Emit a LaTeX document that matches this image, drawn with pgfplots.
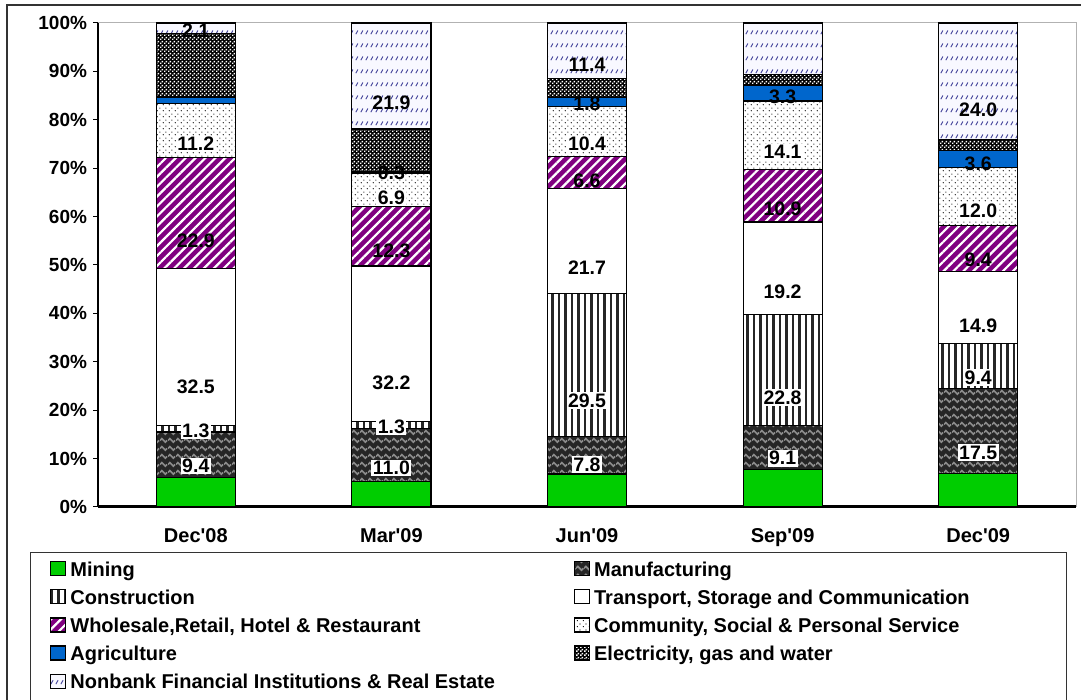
\documentclass[border=0pt]{standalone}
\usepackage{pgfplots}
\pgfplotsset{compat=1.18}
\usepackage{pgfplotstable}
\usepackage{fontspec}
\setmainfont{Liberation Sans}
\usetikzlibrary{patterns,patterns.meta}

\definecolor{mgreen}{RGB}{0,205,0}
\definecolor{wpurple}{RGB}{128,0,128}
\definecolor{agblue}{RGB}{0,102,204}
\definecolor{nbbg}{RGB}{248,248,255}
\definecolor{nbline}{RGB}{60,60,150}

\tikzdeclarepattern{name=wavy, type=uncolored,
  bounding box={(0bp,0bp) and (8bp,8bp)}, tile size={(8bp,8bp)},
  code={\draw[line width=1.8bp] (0bp,4bp) sin (2bp,6bp) cos (4bp,4bp) sin (6bp,2bp) cos (8bp,4bp);}}
\tikzdeclarepattern{name=slashes, type=uncolored,
  bounding box={(0bp,0bp) and (5bp,13bp)}, tile size={(5bp,13bp)},
  code={\draw[line width=1bp] (1bp,3bp) -- (3.5bp,7bp);}}
\tikzdeclarepattern{name=checks, type=uncolored,
  bounding box={(0bp,0bp) and (4bp,4bp)}, tile size={(4bp,4bp)},
  code={\fill (0bp,0bp) rectangle (1.8bp,1.8bp); \fill (2bp,2bp) rectangle (3.8bp,3.8bp);}}
\tikzdeclarepattern{name=sdots, type=uncolored,
  bounding box={(0bp,0bp) and (6bp,6bp)}, tile size={(6bp,6bp)},
  code={\fill (1.5bp,1.5bp) circle (0.7bp); \fill (4.5bp,4.5bp) circle (0.7bp);}}

\newcommand\tickfont{\fontsize{19bp}{22bp}\selectfont\bfseries}
\newcommand\catfont{\fontsize{20bp}{23bp}\selectfont\bfseries}
\newcommand\lblfont{\fontsize{19.5bp}{22bp}\selectfont\bfseries}
\newcommand\legfont{\fontsize{20bp}{23bp}\selectfont\bfseries}

\setlength{\fboxsep}{1.5bp}
\def\nolab{n}
\newcommand\plainlab{\edef\tmplab{\pgfplotspointmeta}\ifx\tmplab\nolab\else\tmplab\fi}
\newcommand\boxlab{\edef\tmplab{\pgfplotspointmeta}\ifx\tmplab\nolab\else\colorbox{white}{\tmplab}\fi}

% the shift is applied twice by pgfplots, so a quarter of the value centres the label
\pgfplotsset{
  seglab/.style={
    point meta=explicit symbolic,
    visualization depends on={\thisrow{y} \as \rawy},
    nodes near coords={#1},
    every node near coord/.append style={anchor=center, inner sep=0pt, text=black,
      font=\lblfont, shift={(axis direction cs:0,-\rawy/4)}},
  },
}

\pgfplotstableread{
x y lab
0 6.1 n
1 5.3 n
2 6.8 n
3 7.8 n
4 6.9 n
}\tMining
\pgfplotstableread{
x y lab
0 9.4 9.4
1 11.0 11.0
2 7.8 7.8
3 9.1 9.1
4 17.5 17.5
}\tManuf
\pgfplotstableread{
x y lab
0 1.3 1.3
1 1.3 1.3
2 29.5 29.5
3 22.8 22.8
4 9.4 9.4
}\tConstr
\pgfplotstableread{
x y lab
0 32.5 32.5
1 32.2 32.2
2 21.7 21.7
3 19.2 19.2
4 14.9 14.9
}\tTrans
\pgfplotstableread{
x y lab
0 22.9 22.9
1 12.3 12.3
2 6.6 6.6
3 10.9 10.9
4 9.4 9.4
}\tWhole
\pgfplotstableread{
x y lab
0 11.2 11.2
1 6.9 6.9
2 10.4 10.4
3 14.1 14.1
4 12.0 12.0
}\tComm
\pgfplotstableread{
x y lab
0 1.3 n
1 0.3 0.3
2 1.8 1.8
3 3.3 3.3
4 3.6 3.6
}\tAgri
\pgfplotstableread{
x y lab
0 13.2 n
1 8.8 n
2 4.0 n
3 2.1 n
4 2.3 n
}\tElec
\pgfplotstableread{
x y lab
0 2.1 2.1
1 21.9 21.9
2 11.4 11.4
3 10.7 n
4 24.0 24.0
}\tNonbank

\begin{document}
\begin{tikzpicture}[x=1bp,y=1bp]
\useasboundingbox (0,0) rectangle (1081,700);
\draw[black!80, line width=1.2bp] (7,-20) -- (7,695) -- (1100,695);
\draw[black!80, line width=1bp, fill=white] (30,147) rectangle (1066,-5);
\begin{axis}[
  at={(98bp,193bp)}, anchor=south west,
  scale only axis, width=978bp, height=484bp,
  ybar stacked, bar width=0.404,
  xmin=-0.5, xmax=4.5, ymin=0, ymax=100,
  enlargelimits=false, clip=false,
  xtick={0,1,2,3,4},
  xticklabels={Dec\textquotesingle08,Mar\textquotesingle09,Jun\textquotesingle09,Sep\textquotesingle09,Dec\textquotesingle09},
  ytick={0,10,...,100},
  ytick pos=left,
  yticklabel={\pgfmathprintnumber{\tick}\%},
  /pgf/number format/assume math mode=true,
  tick align=outside, major tick length=5bp,
  xtick style={draw=none},
  ytick style={black, line width=1bp},
  yticklabel style={font=\tickfont, xshift=-2.5bp},
  xticklabel style={font=\catfont, yshift=-13bp},
  axis line style={draw=gray!60, line width=1bp},
  legend style={
    at={(0,0)}, anchor=north west, xshift=-48bp, yshift=-54bp,
    draw=none, fill=none, inner sep=0pt,
    font=\legfont, row sep=8bp,
    nodes={inner sep=0pt, text height=15bp, text depth=5bp},
    /tikz/every odd column/.append style={column sep=4bp},
    /tikz/every even column/.append style={column sep=79bp},
  },
  legend cell align=left,
  legend columns=2,
  legend image code/.code={\draw[#1] (0bp,-4.5bp) rectangle (15bp,9.5bp);},
]
\addplot[draw=black, line width=1.2bp, fill=mgreen, seglab=\plainlab]
  table[x=x,y=y,meta=lab]{\tMining};
\addlegendentry{Mining}
\addplot[draw=black, line width=1.2bp, fill=black!85, postaction={pattern=wavy, pattern color=black!45}, seglab=\boxlab]
  table[x=x,y=y,meta=lab]{\tManuf};
\addlegendentry{Manufacturing}
\addplot[draw=black, line width=1.2bp, fill=white, postaction={pattern={Lines[angle=90,distance=6.5bp,line width=2.2bp]}, pattern color=black!85}, seglab=\boxlab]
  table[x=x,y=y,meta=lab]{\tConstr};
\addlegendentry{Construction}
\addplot[draw=black, line width=1.2bp, fill=white, seglab=\plainlab]
  table[x=x,y=y,meta=lab]{\tTrans};
\addlegendentry{Transport, Storage and Communication}
\addplot[draw=black, line width=1.2bp, fill=wpurple, postaction={pattern={Lines[angle=45,distance=7bp,line width=2.2bp]}, pattern color=white}, seglab=\plainlab]
  table[x=x,y=y,meta=lab]{\tWhole};
\addlegendentry{Wholesale,Retail, Hotel \& Restaurant}
\addplot[draw=black, line width=1.2bp, fill=white, postaction={pattern=sdots, pattern color=black}, seglab=\boxlab]
  table[x=x,y=y,meta=lab]{\tComm};
\addlegendentry{Community, Social \& Personal Service}
\addplot[draw=black, line width=1.2bp, fill=agblue, seglab=\plainlab]
  table[x=x,y=y,meta=lab]{\tAgri};
\addlegendentry{Agriculture}
\addplot[draw=black, line width=1.2bp, fill=black, postaction={pattern=checks, pattern color=white}, seglab=\plainlab]
  table[x=x,y=y,meta=lab]{\tElec};
\addlegendentry{Electricity, gas and water}
\addplot[draw=black, line width=1.2bp, fill=nbbg, postaction={pattern=slashes, pattern color=nbline}, seglab=\plainlab]
  table[x=x,y=y,meta=lab]{\tNonbank};
\addlegendentry{Nonbank Financial Institutions \& Real Estate}
\draw[black, line width=3bp] (rel axis cs:0,0) -- (rel axis cs:1,0);
\draw[black, line width=1.7bp] (rel axis cs:0,0) -- (rel axis cs:0,1);
\end{axis}
\end{tikzpicture}
\end{document}
